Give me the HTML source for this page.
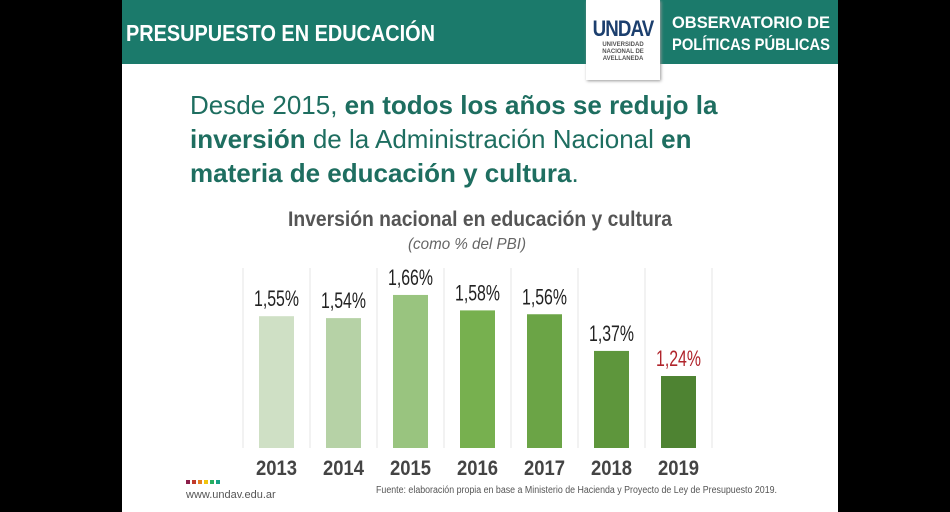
<!DOCTYPE html>
<html><head><meta charset="utf-8"><style>
body{margin:0;width:950px;height:512px;background:#000;overflow:hidden;font-family:"Liberation Sans",sans-serif}
#panel{position:absolute;left:122px;top:0;width:716px;height:512px;background:#fff}
#hdr{position:absolute;left:122px;top:0;width:716px;height:64px;background:#1b7a6b}
</style></head><body>
<div id="panel"></div>
<div id="hdr"></div>
<div style="position:absolute;left:586px;top:0;width:74px;height:80px;background:#fff;box-shadow:1px 1px 3px #999;text-align:center">
<div style="font-weight:900;font-size:22px;color:#1c3f6e;margin-top:16px;letter-spacing:-1px;transform:scaleX(0.85)">UNDAV</div>
<div style="font-size:6px;font-weight:bold;color:#555;line-height:7px">UNIVERSIDAD<br>NACIONAL DE<br>AVELLANEDA</div></div>
<div style="position:absolute;left:190px;top:88px;width:600px;color:#1e6e60;font-size:26px;line-height:34px">Desde 2015, <b>en todos los años se redujo la inversión</b> de la Administración Nacional <b>en materia de educación y cultura</b>.</div>
<svg width="950" height="512" style="position:absolute;left:0;top:0">
<text x="126" y="41" font-weight="bold" font-size="23" fill="#fff" textLength="309" lengthAdjust="spacingAndGlyphs">PRESUPUESTO EN EDUCACIÓN</text>
<text x="751" y="28" text-anchor="middle" font-weight="bold" font-size="17" fill="#fff" textLength="158" lengthAdjust="spacingAndGlyphs">OBSERVATORIO DE</text>
<text x="751" y="50" text-anchor="middle" font-weight="bold" font-size="17" fill="#fff" textLength="158" lengthAdjust="spacingAndGlyphs">POLÍTICAS PÚBLICAS</text>
<text x="480" y="226" text-anchor="middle" font-weight="bold" font-size="21" fill="#555" textLength="384" lengthAdjust="spacingAndGlyphs">Inversión nacional en educación y cultura</text>
<text x="467" y="249" text-anchor="middle" font-style="italic" font-size="16" fill="#666" textLength="118" lengthAdjust="spacingAndGlyphs">(como % del PBI)</text>
<g id="g"></g>
<g>
<rect x="186" y="480" width="4" height="4" fill="#8b1e4a"/><rect x="192" y="480" width="4" height="4" fill="#c0392b"/><rect x="198" y="480" width="4" height="4" fill="#e67e22"/><rect x="204" y="480" width="4" height="4" fill="#f1c40f"/><rect x="210" y="480" width="4" height="4" fill="#27ae60"/><rect x="216" y="480" width="4" height="4" fill="#16a085"/></g>
<text x="186" y="498" font-size="11" fill="#555">www.undav.edu.ar</text>
<text x="376" y="493" font-size="10" fill="#555" textLength="401" lengthAdjust="spacingAndGlyphs">Fuente: elaboración propia en base a Ministerio de Hacienda y Proyecto de Ley de Presupuesto 2019.</text>
</svg>
<script>
const years=["2013","2014","2015","2016","2017","2018","2019"];
const values=[1.55,1.54,1.66,1.58,1.56,1.37,1.24];
const labels=["1,55%","1,54%","1,66%","1,58%","1,56%","1,37%","1,24%"];
const colors=["#cfe0c5","#b6d2a6","#99c47f","#77b04f","#6ba446","#5e963c","#4e8332"];
const NS="http://www.w3.org/2000/svg",g=document.getElementById('g');
const base=448,slope=193,v0=0.867;
const y=v=>base-(v-v0)*slope;
const x=i=>243+i*67;
function mk(t,a){const e=document.createElementNS(NS,t);for(const k in a)e.setAttribute(k,a[k]);g.appendChild(e);return e;}
for(let i=0;i<=7;i++){const l=mk('line',{x1:x(i),x2:x(i),y1:268,y2:base,stroke:'#e6e6e6','stroke-width':1});

}
values.forEach((v,i)=>{
const r=mk('rect',{x:x(i)+16,y:y(v),width:35,height:base-y(v),fill:colors[i]});


const t=mk('text',{x:x(i)+33.5,y:y(v)-10,'text-anchor':'middle','font-size':22,fill:i==6?'#b0242b':'#222',textLength:45,lengthAdjust:'spacingAndGlyphs'});
t.textContent=labels[i];


const yt=mk('text',{x:x(i)+33.5,y:475,'text-anchor':'middle','font-size':21,'font-weight':'bold',fill:'#444',textLength:41,lengthAdjust:'spacingAndGlyphs'});
yt.textContent=years[i];


});
</script>
</body></html>
